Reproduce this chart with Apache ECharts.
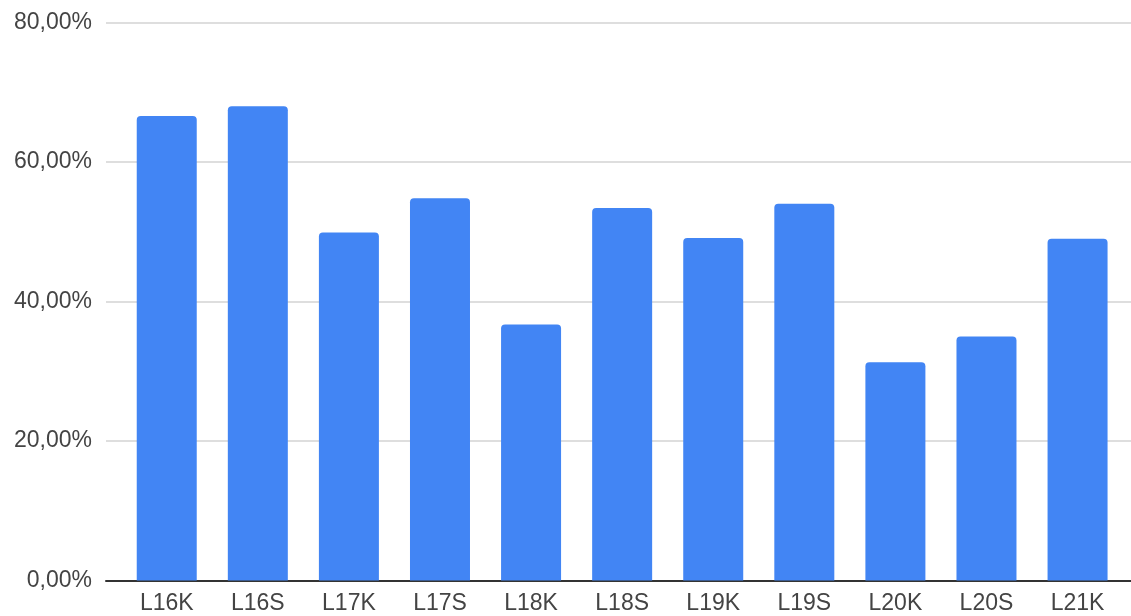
<!DOCTYPE html>
<html>
<head>
<meta charset="utf-8">
<style>
  html, body { margin: 0; padding: 0; background: #fff; }
  #chart { width: 1131px; height: 616px; }
</style>
<script src="https://cdn.jsdelivr.net/npm/echarts@6/dist/echarts.min.js"></script>
</head>
<body>
<div id="chart"></div>
<script>
// Share per group (percent)
const categories = ['L16K', 'L16S', 'L17K', 'L17S', 'L18K', 'L18S', 'L19K', 'L19S', 'L20K', 'L20S', 'L21K'];
const shareValues = [66.6, 68.0, 49.9, 54.8, 36.7, 53.4, 49.1, 54.0, 31.3, 35.0, 49.0];
const yTicks = { min: 0, max: 80, interval: 20 };

const fmtPct = v => v.toFixed(2).replace('.', ',') + '%';
const labelFont = { fontFamily: 'Liberation Sans, Arial, sans-serif', fontSize: 23, color: '#444' };

const chart = echarts.init(document.getElementById('chart'), null, { renderer: 'canvas' });
chart.setOption({
  animation: false,
  grid: [
    // wide grid: gridlines, y labels, baseline
    { left: 106, right: 0, top: 22.5, bottom: 35.5 },
    // inner grid: bars and category labels
    { left: 121.2, right: 7.9, top: 22.5, bottom: 35.5 }
  ],
  xAxis: [
    {
      gridIndex: 0, type: 'category', data: [''],
      axisLine: { show: true, lineStyle: { color: '#333', width: 2 } },
      axisTick: { show: false }, axisLabel: { show: false }, splitLine: { show: false }
    },
    {
      gridIndex: 1, type: 'category', data: categories,
      axisLine: { show: false }, axisTick: { show: false },
      axisLabel: Object.assign({ margin: 12, interval: 0 }, labelFont)
    }
  ],
  yAxis: [
    {
      gridIndex: 0, type: 'value', min: yTicks.min, max: yTicks.max, interval: yTicks.interval,
      axisLine: { show: false }, axisTick: { show: false },
      axisLabel: Object.assign({ margin: 14, formatter: fmtPct }, labelFont),
      splitLine: { lineStyle: { color: '#d3d3d3', width: 1.5 } }
    },
    {
      gridIndex: 1, type: 'value', min: yTicks.min, max: yTicks.max, interval: yTicks.interval,
      show: false, splitLine: { show: false }
    }
  ],
  series: [{
    type: 'bar',
    xAxisIndex: 1, yAxisIndex: 1,
    data: shareValues,
    barWidth: 60,
    itemStyle: { color: '#4285F4', borderRadius: [4, 4, 0, 0] },
    z: 1
  }]
});
</script>
</body>
</html>
